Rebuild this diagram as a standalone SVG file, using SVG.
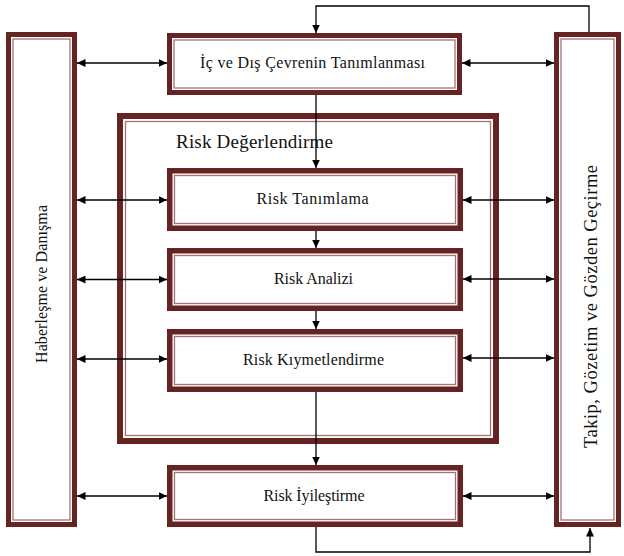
<svg xmlns="http://www.w3.org/2000/svg" width="624" height="556" viewBox="0 0 624 556">
<style>
.dark{fill:#652422}
.wh{fill:#ffffff}
.thin{fill:none;stroke:#a27373;stroke-width:1.3}
text{font-family:'Liberation Serif','DejaVu Serif','Times New Roman',serif;fill:#111}
.lbl{font-size:16px;text-anchor:middle}
.title{font-size:19px}
.side{text-anchor:middle}
.con{fill:none;stroke:#000;stroke-width:1.3}
.arr{marker-end:url(#ah)}
.dbl{marker-start:url(#ah);marker-end:url(#ah)}
</style>
<defs>
<marker id="ah" markerUnits="userSpaceOnUse" markerWidth="9" markerHeight="8" refX="8.5" refY="4" orient="auto-start-reverse">
<path d="M0,0 L8.5,4 L0,8 z" fill="#000"/>
</marker>
</defs>
<rect width="624" height="556" fill="#fff"/>

<g id="node-risk-degerlendirme">
<rect class="dark" x="117" y="113" width="382" height="331"/>
<rect class="wh" x="123" y="119" width="370" height="319"/>
<rect class="thin" x="125.5" y="121.5" width="365" height="314"/>
<text class="title" x="176" y="148" textLength="157" lengthAdjust="spacing">Risk Değerlendirme</text>
</g>

<g id="node-haberlesme">
<rect class="dark" x="6" y="32" width="71" height="495"/>
<rect class="wh" x="11" y="37" width="61" height="485"/>
<rect class="thin" x="13" y="39" width="57" height="481"/>
<text class="side" style="font-size:16px" transform="translate(46.5,284) rotate(-90)" textLength="158" lengthAdjust="spacing">Haberleşme ve Danışma</text>
</g>

<g id="node-takip">
<rect class="dark" x="554" y="32" width="67" height="495"/>
<rect class="wh" x="559" y="37" width="57" height="485"/>
<rect class="thin" x="561" y="39" width="53" height="481"/>
<text class="side" style="font-size:18.5px" transform="translate(597,306.5) rotate(-90)" textLength="283" lengthAdjust="spacing">Takip, Gözetim ve Gözden Geçirme</text>
</g>

<g id="node-cevre">
<rect class="dark" x="167" y="33" width="295" height="62"/>
<rect class="wh" x="172" y="38" width="285" height="52"/>
<rect class="thin" x="174" y="40" width="281" height="48"/>
<text class="lbl" x="312.5" y="68" textLength="225" lengthAdjust="spacing">İç ve Dış Çevrenin Tanımlanması</text>
</g>

<g id="node-tanimlama">
<rect class="dark" x="167" y="168" width="296" height="63"/>
<rect class="wh" x="172.5" y="173.5" width="285" height="52"/>
<rect class="thin" x="174.5" y="175.5" width="281" height="48"/>
<text class="lbl" x="312.5" y="203.5" textLength="112" lengthAdjust="spacing">Risk Tanımlama</text>
</g>

<g id="node-analiz">
<rect class="dark" x="167" y="248" width="296" height="63"/>
<rect class="wh" x="172.5" y="253.5" width="285" height="52"/>
<rect class="thin" x="174.5" y="255.5" width="281" height="48"/>
<text class="lbl" x="313.5" y="283.5" textLength="79" lengthAdjust="spacing">Risk Analizi</text>
</g>

<g id="node-kiymetlendirme">
<rect class="dark" x="167" y="329" width="296" height="63"/>
<rect class="wh" x="172.5" y="334.5" width="285" height="52"/>
<rect class="thin" x="174.5" y="336.5" width="281" height="48"/>
<text class="lbl" x="313.5" y="364.5" textLength="141" lengthAdjust="spacing">Risk Kıymetlendirme</text>
</g>

<g id="node-iyilestirme">
<rect class="dark" x="167" y="465" width="296" height="62"/>
<rect class="wh" x="172.5" y="470.5" width="285" height="51"/>
<rect class="thin" x="174.5" y="472.5" width="281" height="47"/>
<text class="lbl" x="314" y="501" textLength="101" lengthAdjust="spacing">Risk İyileştirme</text>
</g>

<g id="connectors">
<path class="con arr" d="M589,32 V6 H316 V33"/>
<path class="con arr" d="M316,95 V168"/>
<path class="con arr" d="M316,231 V248"/>
<path class="con arr" d="M316,311 V329"/>
<path class="con arr" d="M316,392 V465"/>
<path class="con arr" d="M316,527 V552 H590 V528"/>
<path class="con dbl" d="M77,63 H167"/>
<path class="con dbl" d="M462,63 H554"/>
<path class="con dbl" d="M77,200 H167"/>
<path class="con dbl" d="M463,200 H554"/>
<path class="con dbl" d="M77,279.5 H167"/>
<path class="con dbl" d="M463,279 H554"/>
<path class="con dbl" d="M77,359 H167"/>
<path class="con dbl" d="M463,358 H554"/>
<path class="con dbl" d="M77,496 H167"/>
<path class="con dbl" d="M463,496 H554"/>
</g>
</svg>
